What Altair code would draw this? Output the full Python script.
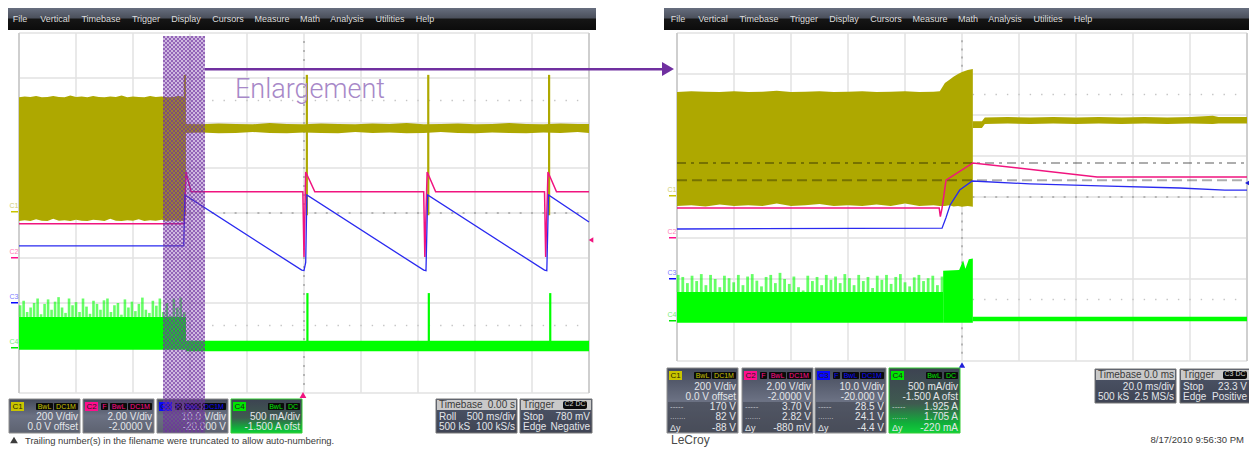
import altair as alt
import pandas as pd
import numpy as np

# ---------- layout of the two scope screens (reference pixels -> divisions) ----------
W, H = 1241, 441
L_X0, DIV_PX, R_X0 = 19, 57, 677
L_Y0, L_DIV, R_Y0, R_DIV = 393, 45, 361, 41
OFFSET = (R_X0 - L_X0) / DIV_PX
def cx(p): return (p - L_X0) / DIV_PX
def cyL(p): return (L_Y0 - p) / L_DIV
def cyR(p): return (R_Y0 - p) / R_DIV
XDOM = [cx(8), cx(8 + W)]
LDOM = [cyL(8 + H), cyL(8)]
RDOM = [cyR(8 + H), cyR(8)]

YELLOW, PINK, BLUE, GREEN = "#aea800", "#f0147f", "#2a2af0", "#00ff00"
PURPLE = "#7030a0"

# ---------- traces, all in scope divisions ----------
# left capture
l_yel_x = [0, .1, .2, .3, .4, .5, .6, .7, .8, .9, 1, 1.1, 1.2, 1.3, 1.4, 1.5, 1.6, 1.7, 1.8, 1.9, 2, 2.1, 2.2, 2.3, 2.4, 2.5, 2.6, 2.7, 2.8, 2.91]
l_yel_top = [6.57, 6.59, 6.58, 6.6, 6.57, 6.58, 6.6, 6.58, 6.57, 6.61, 6.58, 6.59, 6.57, 6.6, 6.58, 6.57, 6.59, 6.58, 6.61, 6.57, 6.59, 6.58, 6.57, 6.6, 6.58, 6.59, 6.57, 6.58, 6.6, 6.58]
l_yel_bot = [3.82, 3.84, 3.82, 3.86, 3.83, 3.82, 3.87, 3.83, 3.84, 3.82, 3.85, 3.83, 3.82, 3.85, 3.84, 3.82, 3.87, 3.83, 3.82, 3.84, 3.83, 3.86, 3.82, 3.84, 3.83, 3.85, 3.82, 3.84, 3.83, 3.82]
l_band_x = [2.91, 3.2, 3.5, 3.8, 4.1, 4.4, 4.7, 5, 5.3, 5.6, 5.9, 6.2, 6.5, 6.8, 7.1, 7.4, 7.7, 8, 8.3, 8.6, 8.9, 9.2, 9.5, 9.8, 10]
l_band_top = [5.98, 5.97, 5.99, 5.98, 5.97, 6.0, 5.98, 5.97, 5.99, 5.98, 5.97, 5.99, 5.98, 6.0, 5.97, 5.98, 5.99, 5.97, 5.98, 6.0, 5.98, 5.97, 5.99, 5.98, 5.98]
l_band_bot = [5.78, 5.79, 5.77, 5.78, 5.8, 5.78, 5.77, 5.79, 5.78, 5.77, 5.8, 5.78, 5.79, 5.77, 5.78, 5.8, 5.78, 5.77, 5.79, 5.78, 5.77, 5.79, 5.78, 5.8, 5.78]
l_peak_x = [2.91, 5.05, 7.18, 9.3]
l_pink_x = [0, 2.9, 2.93, 3.02, 4.98, 5.0, 5.03, 5.19, 7.1, 7.12, 7.16, 7.31, 9.22, 9.24, 9.28, 9.43, 10]
l_pink_y = [3.76, 3.76, 4.91, 4.47, 4.47, 3.02, 4.91, 4.47, 4.47, 3.02, 4.91, 4.47, 4.47, 3.02, 4.91, 4.47, 4.47]
l_blue_x = [0, 2.89, 2.91, 4.96, 5.0, 5.03, 5.05, 7.1, 7.14, 7.17, 9.22, 9.26, 9.29, 10]
l_blue_y = [3.27, 3.27, 4.4, 2.73, 2.72, 2.9, 4.4, 2.73, 2.72, 4.4, 2.73, 2.72, 4.4, 3.8]
l_green_spike = [1.95, 2.05, 1.8, 1.9, 2.0, 2.1, 1.75, 1.98, 2.08, 1.85, 2.03, 2.13, 1.9, 1.78, 2.1, 1.95,
                 2.02, 1.8, 2.1, 1.92, 1.76, 2.05, 1.98, 1.85, 2.06, 2.1, 1.8, 1.95, 2.0, 1.74, 2.08, 1.9,
                 2.03, 1.82, 1.98, 2.12, 1.85, 1.78, 2.05, 1.94, 2.1, 1.8, 2.0, 1.72, 2.1, 1.9, 2.12, 1.8]
l_green_top, l_green_bot = 1.69, 0.96
l_gbase_top, l_gbase_bot = 1.16, 0.93
l_gpeak_x = [5.06, 7.19, 9.32]
l_gpeak_top = 2.22

# right capture
r_yel_x = [0, .25, .5, .75, 1, 1.25, 1.5, 1.75, 2, 2.25, 2.5, 2.75, 3, 3.25, 3.5, 3.75, 4, 4.25, 4.5, 4.61, 4.7, 4.78, 4.85, 4.93, 5.0, 5.1, 5.19]
r_yel_top = [6.56, 6.58, 6.57, 6.56, 6.58, 6.56, 6.57, 6.59, 6.56, 6.57, 6.58, 6.56, 6.57, 6.58, 6.56, 6.57, 6.58, 6.56, 6.57, 6.58, 6.78, 6.86, 6.93, 7.0, 7.05, 7.1, 7.12]
r_yel_bot = [3.78, 3.8, 3.77, 3.82, 3.78, 3.8, 3.78, 3.84, 3.78, 3.8, 3.83, 3.78, 3.8, 3.78, 3.82, 3.78, 3.84, 3.78, 3.8, 3.78, 3.78, 3.8, 3.77, 3.78, 3.76, 3.78, 3.76]
r_band_x = [5.19, 5.35, 5.4, 5.8, 6.2, 6.6, 7, 7.4, 7.8, 8.2, 8.6, 9, 9.4, 9.5, 10]
r_band_top = [5.85, 5.85, 5.94, 5.95, 5.94, 5.95, 5.94, 5.95, 5.94, 5.95, 5.94, 5.95, 5.98, 5.95, 5.95]
r_band_bot = [5.68, 5.68, 5.78, 5.79, 5.78, 5.79, 5.78, 5.79, 5.78, 5.79, 5.78, 5.79, 5.78, 5.79, 5.79]
r_pink_x = [0, 4.6, 4.62, 4.65, 4.72, 5.19, 7.37, 10]
r_pink_y = [3.73, 3.73, 3.52, 3.73, 4.41, 4.83, 4.49, 4.49]
r_blue_x = [0, 4.65, 4.72, 4.79, 4.96, 5.18, 6.19, 7.42, 8.82, 9.61, 10]
r_blue_y = [3.22, 3.24, 3.5, 3.8, 4.17, 4.39, 4.32, 4.27, 4.22, 4.17, 4.17]
r_green_spike = [2.1, 2.05, 1.9, 2.08, 1.95, 2.12, 1.85, 2.1, 2.0, 1.8, 2.08, 2.02, 1.92, 2.1, 1.85, 2.06,
                 2.12, 1.96, 1.82, 2.05, 2.1, 1.9, 2.15, 2.0, 1.88, 2.06, 1.8, 1.72, 2.08, 1.95, 2.05, 1.85,
                 2.1, 1.98, 2.06, 1.9, 2.12, 2.02, 1.85, 2.1, 1.95, 2.05, 1.78, 2.08, 1.98, 2.1, 1.88, 2.05,
                 2.12, 1.92, 1.82, 2.04, 2.1, 1.95, 2.02, 2.08, 1.85, 2.06]
r_green_top, r_green_bot = 1.68, 0.93
r_gend_x = [4.67, 4.95, 5.02, 5.06, 5.12, 5.19]
r_gend_top = [2.2, 2.22, 2.45, 2.25, 2.48, 2.5]
r_gbase = [1.08, 0.97]
cursor_levels = [4.83, 4.41]

# ---------- text ----------
menu = ["File", "Vertical", "Timebase", "Trigger", "Display", "Cursors", "Measure", "Math", "Analysis", "Utilities", "Help"]
menu_px = [20, 55, 101, 146, 186, 228, 272, 310, 347, 390, 425]
ch_names = ["C1", "C2", "C3", "C4"]
ch_colors = ["#c9c400", "#ff0d8c", "#0808ff", "#00e600"]
ch_line1 = ["200 V/div", "2.00 V/div", "10.0 V/div", "500 mA/div"]
ch_line2 = ["0.0 V offset", "-2.0000 V", "-20.000 V", "-1.500 A ofst"]
ch_r3 = ["170 V", "3.70 V", "28.5 V", "1.925 A"]
ch_r4 = ["82 V", "2.82 V", "24.1 V", "1.705 A"]
ch_r5 = ["-88 V", "-880 mV", "-4.4 V", "-220 mA"]
tb_left = [("Timebase", "0.00 s"), ("Roll", "500 ms/div"), ("500 kS", "100 kS/s")]
tr_left = [("Trigger", ""), ("Stop", "780 mV"), ("Edge", "Negative")]
tb_right = [("Timebase", "0.0 ms"), ("", "20.0 ms/div"), ("500 kS", "2.5 MS/s")]
tr_right = [("Trigger", ""), ("Stop", "23.3 V"), ("Edge", "Positive")]

# ---------- mark helpers ----------
X = alt.X("x:Q", scale=alt.Scale(domain=XDOM), axis=None)
def Y(dom): return alt.Y("y:Q", scale=alt.Scale(domain=dom), axis=None)

def rects(dom, rows, **mk):
    df = pd.DataFrame(rows, columns=["x", "y", "x2", "y2"])
    return alt.Chart(df).mark_rect(**mk).encode(x=X, x2="x2:Q", y=Y(dom), y2="y2:Q")

def boxes(dom, conv, rows, **mk):
    return rects(dom, [(cx(a), conv(b), cx(c), conv(d)) for a, b, c, d in rows], **mk)

def line(dom, xs, ys, off=0, **mk):
    df = pd.DataFrame({"x": np.array(xs) + off, "y": ys, "o": range(len(xs))})
    return alt.Chart(df).mark_line(**mk).encode(x=X, y=Y(dom), order="o:Q")

def band(dom, xs, top, bot, off=0, **mk):
    df = pd.DataFrame({"x": np.array(xs) + off, "y": top, "y2": bot})
    return alt.Chart(df).mark_area(**mk).encode(x=X, y=Y(dom), y2="y2:Q")

def spikes(dom, xs, tops, bot, off=0, **mk):
    df = pd.DataFrame({"x": np.array(xs) + off, "y": tops, "y2": bot})
    return alt.Chart(df).mark_rule(**mk).encode(x=X, y=Y(dom), y2="y2:Q")

def pts(dom, xs, ys, **mk):
    df = pd.DataFrame({"x": xs, "y": ys})
    return alt.Chart(df).mark_point(**mk).encode(x=X, y=Y(dom))

def texts(dom, conv, rows, align="left", font="Liberation Sans", **mk):
    df = pd.DataFrame(rows, columns=["px", "py", "t", "c", "s"])
    df["x"] = df.px.map(cx)
    df["y"] = df.py.map(conv)
    return alt.Chart(df).mark_text(align=align, baseline="middle", font=font, **mk).encode(
        x=X, y=Y(dom), text="t:N", color=alt.Color("c:N", scale=None), size=alt.Size("s:Q", scale=None))

def grad(*stops):
    return alt.LinearGradient(gradient="linear", x1=0, x2=0, y1=0, y2=1,
                              stops=[alt.GradientStop(offset=o, color=c) for o, c in stops])

BAR = grad((0, "#6f7789"), (.5, "#4c515d"), (.58, "#151515"), (1, "#0c0c0c"))
SLATE = grad((0, "#43495a"), (.5, "#6b7183"), (1, "#5d6270"))
GLOW = grad((0, "#3d4352"), (.55, "#3f5a50"), (.85, "#10b03a"), (1, "#10d03a"))
BOX2 = grad((0, "#4d5568"), (1, "#3f4454"))
TXT = "#e4e6ea"

def scope(dom, conv, off, y0, gx0):
    """grid, frame, tick marks and toolbar of one screen"""
    a = []
    a.append(boxes(dom, conv, [(gx0 - 13, 5, gx0 + 577, 30)], color=BAR))
    a.append(texts(dom, conv, [(p + gx0 - L_X0, 18.5, m, "#dcdcdc", 9) for m, p in zip(menu, menu_px)],
                   align="center"))
    div_x = np.arange(0, 11) + off
    a.append(spikes(dom, div_x, [8] * 11, 0, stroke="#e2e2e2", strokeWidth=1.5))
    df = pd.DataFrame({"y": np.arange(0, 9.0), "x": 0 + off, "x2": 10 + off})
    a.append(alt.Chart(df).mark_rule(stroke="#e2e2e2", strokeWidth=1.5).encode(x=X, x2="x2:Q", y=Y(dom)))
    a.append(spikes(dom, [off, 10 + off], [8, 8], 0, stroke="#cfcfcf", strokeWidth=2))
    tx = np.arange(0.2, 10, .2) + off
    a.append(pts(dom, tx, [4.0] * len(tx), shape="square", size=4, filled=True, color="#b4b4b4", opacity=1))
    ty = np.arange(.2, 8, .2)
    a.append(pts(dom, [5 + off] * len(ty), ty, shape="square", size=4, filled=True, color="#b4b4b4", opacity=1))
    for lv in (6.5, 1.5):
        a.append(pts(dom, tx, [lv] * len(tx), shape="square", size=2, filled=True, color="#c4c4c4", opacity=1))
    return a

def readouts(dom, conv, xs, top, bottom, tall):
    a = []
    for i, px in enumerate(xs):
        fill = GLOW if i == 3 else SLATE
        a.append(boxes(dom, conv, [(px, top, px + 71, bottom)], color=fill,
                       stroke="#33cc33" if i == 3 else "#8c8c8c", strokeWidth=1))
        a.append(boxes(dom, conv, [(px + 2, top + 3, px + 15, top + 12)], color=ch_colors[i]))
        if i in (1, 2):
            a.append(boxes(dom, conv, [(px + 18, top + 4, px + 25, top + 11)], color="#0b0b0b", cornerRadius=1))
        d1 = (px + 27 if i < 3 else px + 37, px + 44 if i < 3 else px + 53)
        d2 = (px + 45 if i < 3 else px + 55, px + 69)
        a.append(boxes(dom, conv, [(d1[0], top + 4, d1[1], top + 11), (d2[0], top + 4, d2[1], top + 11)],
                       color="#0b0b0b", cornerRadius=1))
        lab = [(px + 8.5, top + 7.5, ch_names[i], "#2a2a00" if i == 0 else "#202020", 8),
               ((d1[0] + d1[1]) / 2, top + 7.5, "BwL", ch_colors[i], 7),
               ((d2[0] + d2[1]) / 2, top + 7.5, "DC1M" if i < 3 else "DC", ch_colors[i], 7)]
        if i in (1, 2):
            lab.append((px + 21.5, top + 7.5, "F", ch_colors[i], 7))
        a.append(texts(dom, conv, lab, align="center"))
        if tall:
            if i < 3:
                a.append(boxes(dom, conv, [(px + 1, top + 34, px + 70, bottom - 1)], color="#23262e", opacity=.35))
            a.append(texts(dom, conv, [(px + 69, top + 19, ch_line1[i], TXT, 10),
                                       (px + 69, top + 29, ch_line2[i], TXT, 10),
                                       (px + 69, top + 39, ch_r3[i], TXT, 10),
                                       (px + 69, top + 49, ch_r4[i], TXT, 10),
                                       (px + 69, top + 60, ch_r5[i], TXT, 10)], align="right"))
            a.append(texts(dom, conv, [(px + 3, top + 39, "-----", "#c9ccd2", 8),
                                       (px + 3, top + 49, ".......", "#c9ccd2", 8),
                                       (px + 3, top + 60, "Δy", TXT, 9)]))
        else:
            a.append(texts(dom, conv, [(px + 69, top + 18, ch_line1[i], TXT, 10),
                                       (px + 69, top + 28, ch_line2[i], TXT, 10)], align="right"))
    return a

def info(dom, conv, x, top, rows, badge=False, inset=None):
    a = [boxes(dom, conv, [(x, top, x + 81 if not badge else x + 72, top + 34)], color=BOX2, stroke="#777777", strokeWidth=1),
         boxes(dom, conv, [(x + 1, top + 1, x + (80 if not badge else 71), top + 11)], color="#c9c9c9")]
    w = inset if inset else (79 if not badge else 70)
    lefts, rights = [], []
    ys = [top + 6, top + 18, top + 28]
    for k, (l, r) in enumerate(rows):
        c = "#3a3a3a" if k == 0 else TXT
        lefts.append((x + 3, ys[k], l, c, 10))
        rights.append((x + w, ys[k], r, c, 10))
    a.append(texts(dom, conv, lefts))
    a.append(texts(dom, conv, rights, align="right"))
    if badge:
        a.append(boxes(dom, conv, [(x + 43, top + 2, x + 67, top + 10)], color="#0b0b0b", cornerRadius=2))
    return a

def labels(dom, conv, x, ys):
    a = []
    rows = [(x, y, n, c, 7) for y, n, c in zip(ys, ch_names, ["#c5c24a", "#ff5aa8", "#5a5aff", "#55e855"])]
    a.append(texts(dom, conv, rows, align="center", opacity=.8))
    for y, c in zip(ys, ch_colors):
        a.append(boxes(dom, conv, [(x - 3, y + 5, x + 4, y + 6.5)], color=c))
    return a

# ---------- left screen ----------
L = []
L += scope(LDOM, cyL, 0, L_Y0, L_X0)
L += labels(LDOM, cyL, 14, [206, 252, 297, 342])
L.append(band(LDOM, l_yel_x, l_yel_top, l_yel_bot, color=YELLOW))
L.append(band(LDOM, l_band_x, l_band_top, l_band_bot, color=YELLOW))
L.append(spikes(LDOM, l_peak_x, [7.07] * 4, 3.95, stroke=YELLOW, strokeWidth=2.2))
gx = np.linspace(0.02, 2.9, len(l_green_spike))
L.append(spikes(LDOM, gx, l_green_spike, l_green_top, stroke=GREEN, strokeWidth=2.6, opacity=.6))
L.append(band(LDOM, [0, 2.93], [l_green_top] * 2, [l_green_bot] * 2, color=GREEN))
L.append(band(LDOM, [2.93, 10], [l_gbase_top] * 2, [l_gbase_bot] * 2, color=GREEN))
L.append(spikes(LDOM, l_gpeak_x, [l_gpeak_top] * 3, 1.0, stroke=GREEN, strokeWidth=2.2))
L.append(line(LDOM, l_pink_x, l_pink_y, stroke=PINK, strokeWidth=1.5))
L.append(line(LDOM, l_blue_x, l_blue_y, stroke=BLUE, strokeWidth=1.3))
L.append(pts(LDOM, [cx(303)], [cyL(395)], shape="triangle-up", size=45, filled=True, color="#f0147f", opacity=1))
L.append(pts(LDOM, [cx(591)], [cyL(240)], shape="triangle-left", size=28, filled=True, color="#f0147f", opacity=1))
L += readouts(LDOM, cyL, [9, 83, 157, 231], 399, 433, False)
L += info(LDOM, cyL, 436, 399, tb_left)
L += info(LDOM, cyL, 520, 399, tr_left, badge=True)
L.append(texts(LDOM, cyL, [(575, 404, "C2 DC", "#d8d8d8", 7)], align="center"))
L.append(pts(LDOM, [cx(14)], [cyL(440)], shape="triangle-up", size=60, filled=True, color="#3c3c3c", opacity=1))
L.append(texts(LDOM, cyL, [(25, 440.5, "Trailing number(s) in the filename were truncated to allow auto-numbering.", "#3a3a3a", 9.4)]))
# enlargement window: translucent wash and dither cells, then the arrow and caption
L.append(boxes(LDOM, cyL, [(163, 36, 205, 433)], color=PURPLE, opacity=.34))
cell_px = [(164 + 2 * i, 37 + 2 * j) for i in range(21) for j in range(198) if (i + j) % 2 == 0]
L.append(pts(LDOM, [cx(p[0]) for p in cell_px], [cyL(p[1]) for p in cell_px], shape="square", size=4,
             filled=True, color=PURPLE, opacity=.62))
L.append(boxes(LDOM, cyL, [(205, 68, 662, 70.5)], color=PURPLE))
L.append(pts(LDOM, [cx(668)], [cyL(69)], shape="triangle-right", size=190, filled=True, color=PURPLE, opacity=1))
L.append(texts(LDOM, cyL, [(235, 90, "Enlargement", "#a788c8", 27)], font="Roboto", fontWeight=300))

# ---------- right screen ----------
R = []
R += scope(RDOM, cyR, OFFSET, R_Y0, R_X0)
R += labels(RDOM, cyR, 672, [190, 232, 273, 315])
R.append(band(RDOM, r_yel_x, r_yel_top, r_yel_bot, off=OFFSET, color=YELLOW))
R.append(band(RDOM, r_band_x, r_band_top, r_band_bot, off=OFFSET, color=YELLOW))
gx = np.linspace(0.02, 4.65, len(r_green_spike))
R.append(spikes(RDOM, gx, r_green_spike, r_green_top, off=OFFSET, stroke=GREEN, strokeWidth=2.8, opacity=.6))
R.append(band(RDOM, [0, 4.67], [r_green_top] * 2, [r_green_bot] * 2, off=OFFSET, color=GREEN))
R.append(band(RDOM, r_gend_x, r_gend_top, [r_green_bot] * len(r_gend_x), off=OFFSET, color=GREEN))
R.append(band(RDOM, [5.19, 10], [r_gbase[0]] * 2, [r_gbase[1]] * 2, off=OFFSET, color=GREEN))
df_c = pd.DataFrame({"x": [OFFSET], "x2": [10 + OFFSET], "y": [cursor_levels[0]]})
R.append(alt.Chart(df_c).mark_rule(stroke="#000000", opacity=.32, strokeWidth=2, strokeDash=[9, 5, 3, 5]).encode(x=X, x2="x2:Q", y=Y(RDOM)))
df_c = pd.DataFrame({"x": [OFFSET], "x2": [10 + OFFSET], "y": [cursor_levels[1]]})
R.append(alt.Chart(df_c).mark_rule(stroke="#000000", opacity=.32, strokeWidth=2, strokeDash=[10, 5]).encode(x=X, x2="x2:Q", y=Y(RDOM)))
R.append(line(RDOM, r_pink_x, r_pink_y, off=OFFSET, stroke=PINK, strokeWidth=1.5))
R.append(line(RDOM, r_blue_x, r_blue_y, off=OFFSET, stroke=BLUE, strokeWidth=1.3))
R.append(pts(RDOM, [cx(962)], [cyR(365)], shape="triangle-up", size=40, filled=True, color="#1f1fd8", opacity=1))
R.append(pts(RDOM, [cx(1247)], [cyR(183)], shape="triangle-left", size=22, filled=True, color="#1f1fd8", opacity=1))
R += readouts(RDOM, cyR, [667, 742, 815, 889], 368, 433, True)
R += info(RDOM, cyR, 1095, 369, tb_right)
R += info(RDOM, cyR, 1180, 369, tr_right, badge=True, inset=67)
R.append(texts(RDOM, cyR, [(1235, 374, "C3 DC", "#d8d8d8", 7)], align="center"))
R.append(texts(RDOM, cyR, [(671, 440, "LeCroy", "#4a4a4a", 12)]))
R.append(texts(RDOM, cyR, [(1244, 440, "8/17/2010 9:56:30 PM", "#3a3a3a", 9.5)], align="right"))

chart = alt.layer(alt.layer(*R), alt.layer(*L)).resolve_scale(y="independent").properties(
    width=W, height=H, padding=0, background="#ffffff", autosize=alt.AutoSizeParams(type="none")
).configure_view(stroke=None)

chart.save("out.html", embed_options={"renderer": "svg", "actions": False})
